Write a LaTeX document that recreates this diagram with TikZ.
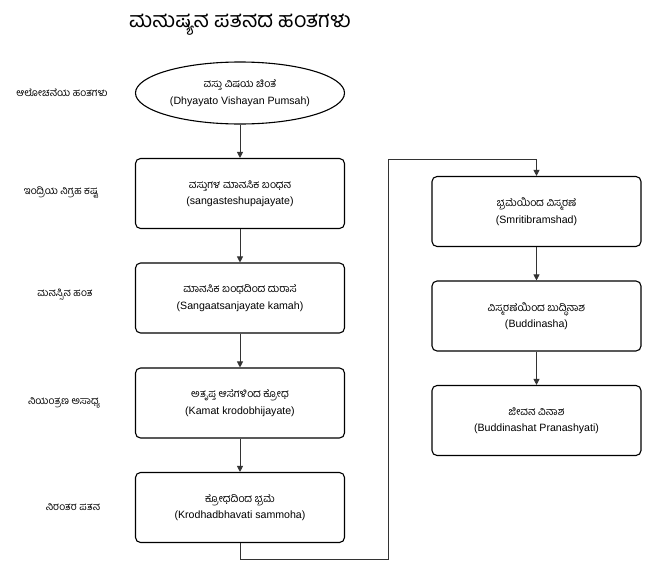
\documentclass[tikz,border=0pt]{standalone}
\usepackage{fontspec}
\setmainfont{Liberation Sans}
\newfontfamily\kn[Script=Kannada]{Hind Mysuru}
\usetikzlibrary{arrows.meta,shapes.geometric}
\begin{document}
\begin{tikzpicture}[x=1pt,y=-1pt,
		stage/.style={draw=black,line width=1.1pt,rounded corners=5pt,minimum width=209pt,minimum height=70pt,inner sep=0pt,align=center,font=\fontsize{10.6}{16.5}\selectfont},
		start/.style={stage,ellipse,rounded corners=0pt,minimum height=62pt},
		phase/.style={font=\kn\fontsize{10.3}{12}\selectfont},
		link/.style={draw=black!80,line width=0.8pt,-{Triangle[length=6pt,width=6pt]}}]
		\useasboundingbox (0,0) rectangle (651,576);
		\node [font=\kn\fontsize{21.5}{24}\selectfont] (title) at (240,25) {ಮನುಷ್ಯನ ಪತನದ ಹಂತಗಳು};
		% left column
		\node [start] (s0) at (240,93) {{\kn ವಸ್ತು ವಿಷಯ ಚಿಂತೆ}\\(Dhyayato Vishayan Pumsah)};
		\node [stage] (s1) at (240,193.5) {{\kn ವಸ್ತುಗಳ ಮಾನಸಿಕ ಬಂಧನ}\\(sangasteshupajayate)};
		\node [stage] (s2) at (240,298) {{\kn ಮಾನಸಿಕ ಬಂಧದಿಂದ ದುರಾಸೆ}\\(Sangaatsanjayate kamah)};
		\node [stage] (s3) at (240,403) {{\kn ಅತೃಪ್ತ ಆಸೆಗಳಿಂದ ಕ್ರೋಧ}\\(Kamat krodobhijayate)};
		\node [stage] (s4) at (240,507.5) {{\kn ಕ್ರೋಧದಿಂದ ಭ್ರಮೆ}\\(Krodhadbhavati sammoha)};
		% right column
		\node [stage] (s5) at (536.5,211.5) {{\kn ಭ್ರಮೆಯಿಂದ ವಿಸ್ಮರಣೆ}\\(Smritibramshad)};
		\node [stage] (s6) at (536.5,316) {{\kn ವಿಸ್ಮರಣೆಯಿಂದ ಬುದ್ಧಿನಾಶ}\\(Buddinasha)};
		\node [stage] (s7) at (536.5,420.5) {{\kn ಜೀವನ ವಿನಾಶ}\\(Buddinashat Pranashyati)};
		% phases
		\node [phase] (p0) at (62,93) {ಆಲೋಚನೆಯ ಹಂತಗಳು};
		\node [phase] (p1) at (61,193) {ಇಂದ್ರಿಯ ನಿಗ್ರಹ ಕಷ್ಟ};
		\node [phase] (p2) at (65,295) {ಮನಸ್ಸಿನ ಹಂತ};
		\node [phase] (p3) at (64,403) {ನಿಯಂತ್ರಣ ಅಸಾಧ್ಯ};
		\node [phase] (p4) at (73,507) {ನಿರಂತರ ಪತನ};
		% links
		\draw [link] (s0) -- (s1);
		\draw [link] (s1) -- (s2);
		\draw [link] (s2) -- (s3);
		\draw [link] (s3) -- (s4);
		\coordinate (loopbot) at (388,559);
		\coordinate (looptop) at (388,159);
		\draw [link] (s4.south) |- (loopbot) -- (looptop) -| (s5.north);
		\draw [link] (s5) -- (s6);
		\draw [link] (s6) -- (s7);
	\end{tikzpicture}
\end{document}
